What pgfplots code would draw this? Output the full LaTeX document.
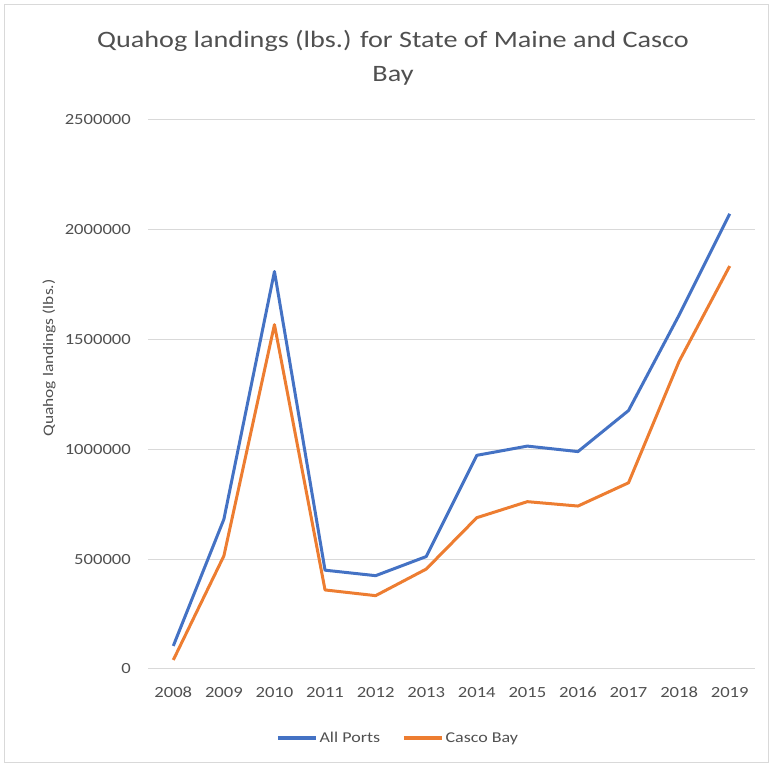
\documentclass[border=0pt]{standalone}
\usepackage{fontspec}
\setmainfont{Carlito}[FakeStretch=1.2]
\usepackage{pgfplots}
\pgfplotsset{compat=1.18}
\definecolor{txt}{HTML}{505050}
\definecolor{gridc}{HTML}{D9D9D9}
\definecolor{blueA}{HTML}{4472C4}
\definecolor{orangeB}{HTML}{ED7D31}
\begin{document}
\begin{tikzpicture}[x=1pt,y=1pt]
\path[use as bounding box] (0,0) rectangle (773,767);
\draw[gridc, line width=1pt] (4.5,4.5) rectangle (768.5,762.5);
\node[txt, font=\fontsize{23.5}{34}\selectfont, align=center] at (393,709) {Quahog landings (lbs.) for State of Maine and Casco\\Bay};
\node[txt, font=\fontsize{14.5}{17}\selectfont, rotate=90] at (49,409) {Quahog landings (lbs.)};
\begin{axis}[
  at={(148pt,98pt)}, anchor=south west,
  scale only axis, width=607pt, height=549pt,
  xmin=2007.5, xmax=2019.5, ymin=0, ymax=2500000,
  xtick={2008,2009,2010,2011,2012,2013,2014,2015,2016,2017,2018,2019},
  xticklabels={2008,2009,2010,2011,2012,2013,2014,2015,2016,2017,2018,2019},
  ytick={0,500000,1000000,1500000,2000000,2500000},
  yticklabels={0,500000,1000000,1500000,2000000,2500000},
  scaled y ticks=false,
  ymajorgrids,
  grid style={gridc, line width=1pt},
  axis line style={draw=none},
  major tick length=0pt,
  tick style={draw=none},
  ticklabel style={txt, font=\fontsize{15.5}{18}\selectfont, inner sep=0pt},
  yticklabel style={xshift=-17pt},
  xticklabel style={yshift=-18pt},
  legend columns=2,
  legend style={at={(0.412,-0.1257)}, anchor=center, draw=none, fill=none,
    font=\fontsize{15}{18}\selectfont, text=txt,
    /tikz/every even column/.append style={column sep=20pt}},
  legend cell align=left,
  legend image code/.code={\draw[#1, line width=3.5pt] (0pt,0pt) -- (38pt,0pt);},
  every axis plot/.append style={line width=3pt, line join=round},
]
\addplot[blueA] coordinates {
(2008,105000) (2009,682000) (2010,1810000) (2011,450000) (2012,425000) (2013,512000)
(2014,973000) (2015,1015000) (2016,990000) (2017,1177000) (2018,1612000) (2019,2073000)};
\addlegendentry{All Ports}
\addplot[orangeB] coordinates {
(2008,41000) (2009,515000) (2010,1568000) (2011,360000) (2012,334000) (2013,455000)
(2014,689000) (2015,762000) (2016,742000) (2017,848000) (2018,1401000) (2019,1835000)};
\addlegendentry{Casco Bay}
\end{axis}
\end{tikzpicture}
\end{document}
